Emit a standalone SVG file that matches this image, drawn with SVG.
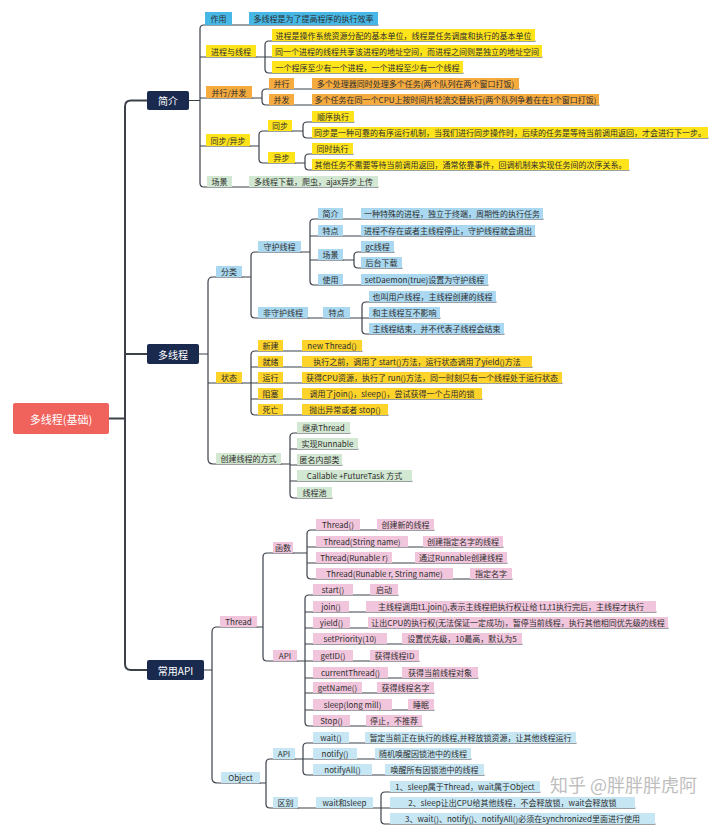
<svg xmlns="http://www.w3.org/2000/svg" width="720" height="837" viewBox="0 0 720 837">
<style>
.t{font-family:"Noto Sans CJK SC","Liberation Sans",sans-serif;font-size:8px;fill:#2e2e2e;text-anchor:middle;dominant-baseline:central}
.w{fill:#ffffff;font-size:10px}
.rt{fill:#ffffff;font-size:11px}
.c{fill:none;stroke:#3b4049;stroke-width:1.2;stroke-linecap:round;stroke-linejoin:round}
.c1{fill:none;stroke:#3b4049;stroke-width:2;stroke-linecap:round}
.blue{fill:#47B8E6}.yel{fill:#FFE41C}.org{fill:#F6AB3E}.grn{fill:#D3E8D2}.lb{fill:#A9D8F0}.gold{fill:#FFD42A}.pink{fill:#F1C6DC}.ob{fill:#C6E6F3}.navy{fill:#1A2A4E}.root{fill:#F0625C}
.wm{font-family:"Noto Sans CJK SC",sans-serif;font-size:18px;fill:#8a8a8a;opacity:0.55}
</style>
<rect width="720" height="837" fill="#ffffff"/>
<g id="connectors">
<path class="c1" d="M109 418.5H125M147 100.5H131Q125 100.5 125 106.5V664Q125 670 131 670H147M125 354H147"/>
<path class="c" d="M189 100.5H200M378 25H204Q200 25 200 29V183Q200 187 204 187H378M200 57H256M200 98H252M200 146H250"/>
<path class="c" d="M256 57H542M535 41H269Q265 41 265 45V69Q265 73 269 73H463"/>
<path class="c" d="M252 98H262M519 89H266Q262 89 262 93V101Q262 105 266 105H599"/>
<path class="c" d="M250 146H259M292 131H263Q259 131 259 135V159Q259 163 263 163H295"/>
<path class="c" d="M292 131H303M354 122H307Q303 122 303 126V134Q303 138 307 138H708"/>
<path class="c" d="M295 163H305M353 154H309Q305 154 305 158V166Q305 170 309 170H629"/>
<path class="c" d="M199 354H208M242 277H213Q208 277 208 282V459Q208 464 213 464H281M208 383H242"/>
<path class="c" d="M242 277H251M301 252H255Q251 252 251 256V314Q251 318 255 318H308"/>
<path class="c" d="M301 252H310M543 219H314Q310 219 310 223V281Q310 285 314 285H488M310 236H535M310 260H343"/>
<path class="c" d="M343 260H354M394 252H358Q354 252 354 256V264Q354 268 358 268H402"/>
<path class="c" d="M308 318H440M496 302H366Q362 302 362 306V330Q362 334 366 334H504"/>
<path class="c" d="M242 383H251M362 351H255Q251 351 251 355V411Q251 415 255 415H388M251 367H532M251 383H562M251 399H482"/>
<path class="c" d="M281 464H290M350 433H294Q290 433 290 437V494Q290 498 294 498H332M290 449H358M290 465H342M290 481H412"/>
<path class="c" d="M204 670H212M257 627H217Q212 627 212 632V778Q212 783 217 783H260"/>
<path class="c" d="M257 627H263M293 553H267Q263 553 263 557V657Q263 661 267 661H297"/>
<path class="c" d="M293 553H307M434 530H311Q307 530 307 534V575Q307 579 311 579H512M307 547H503M307 563H507"/>
<path class="c" d="M297 661H419M398 595H309Q305 595 305 599V722Q305 726 309 726H422M305 612H656M305 628H668M305 644H522M305 678H478M305 693H434M305 710H434"/>
<path class="c" d="M260 783H266M295 759H270Q266 759 266 763V804Q266 808 270 808H298"/>
<path class="c" d="M295 759H471M576 743H307Q303 743 303 747V771Q303 775 307 775H484"/>
<path class="c" d="M298 808H635M540 792H385Q381 792 381 796V820Q381 824 385 824H655"/>
</g>
<g id="root"><rect class="root" x="13" y="403" width="96" height="31" rx="2"/><text class="t rt" x="61" y="418.5">多线程(基础)</text></g>
<g id="n-jianjie"><rect class="navy" x="147" y="91" width="42" height="19" rx="2"/><text class="t w" x="168" y="100.5">简介</text></g>
<g id="n-duoxiancheng"><rect class="navy" x="147" y="344" width="52" height="20" rx="2"/><text class="t w" x="173" y="354">多线程</text></g>
<g id="n-changyongapi"><rect class="navy" x="147" y="660" width="57" height="20" rx="2"/><text class="t w" x="175.5" y="670">常用API</text></g>

<g id="n-zy"><rect class="blue" x="205" y="12" width="27" height="13"/><text class="t" x="218.5" y="18.5">作用</text></g>
<g id="n-zy-l"><rect class="blue" x="249" y="12" width="129" height="13"/><text class="t" x="313.5" y="18.5">多线程是为了提高程序的执行效率</text></g>
<g id="n-jcxc"><rect class="yel" x="206" y="45" width="50" height="12"/><text class="t" x="231" y="51">进程与线程</text></g>
<g id="n-jc1"><rect class="yel" x="272" y="29" width="263" height="12"/><text class="t" x="403.5" y="35">进程是操作系统资源分配的基本单位，线程是任务调度和执行的基本单位</text></g>
<g id="n-jc2"><rect class="yel" x="272" y="45" width="270" height="12"/><text class="t" x="407" y="51">同一个进程的线程共享该进程的地址空间，而进程之间则是独立的地址空间</text></g>
<g id="n-jc3"><rect class="yel" x="272" y="61" width="191" height="12"/><text class="t" x="367.5" y="67">一个程序至少有一个进程，一个进程至少有一个线程</text></g>
<g id="n-bxbf"><rect class="org" x="206" y="86" width="46" height="12"/><text class="t" x="229" y="92">并行/并发</text></g>
<g id="n-bx"><rect class="org" x="269" y="78" width="25" height="11"/><text class="t" x="281.5" y="83.5">并行</text></g>
<g id="n-bx-l"><rect class="org" x="312" y="78" width="207" height="11"/><text class="t" x="415.5" y="83.5">多个处理器同时处理多个任务(两个队列在两个窗口打饭)</text></g>
<g id="n-bf"><rect class="org" x="269" y="94" width="25" height="11"/><text class="t" x="281.5" y="99.5">并发</text></g>
<g id="n-bf-l"><rect class="org" x="312" y="94" width="287" height="11"/><text class="t" x="455.5" y="99.5">多个任务在同一个CPU上按时间片轮流交替执行(两个队列争着在在1个窗口打饭)</text></g>
<g id="n-tbyb"><rect class="yel" x="206" y="134" width="44" height="12"/><text class="t" x="228" y="140">同步/异步</text></g>
<g id="n-tb"><rect class="yel" x="268" y="120" width="24" height="11"/><text class="t" x="280" y="125.5">同步</text></g>
<g id="n-tb1"><rect class="yel" x="312" y="111" width="42" height="11"/><text class="t" x="333" y="116.5">顺序执行</text></g>
<g id="n-tb2"><rect class="yel" x="312" y="127" width="396" height="11"/><text class="t" x="510" y="132.5">同步是一种可靠的有序运行机制，当我们进行同步操作时，后续的任务是等待当前调用返回，才会进行下一步。</text></g>
<g id="n-yb"><rect class="yel" x="268" y="152" width="27" height="11"/><text class="t" x="281.5" y="157.5">异步</text></g>
<g id="n-yb1"><rect class="yel" x="312" y="143" width="41" height="11"/><text class="t" x="332.5" y="148.5">同时执行</text></g>
<g id="n-yb2"><rect class="yel" x="312" y="159" width="317" height="11"/><text class="t" x="470.5" y="164.5">其他任务不需要等待当前调用返回，通常依靠事件，回调机制来实现任务间的次序关系。</text></g>
<g id="n-cj"><rect class="grn" x="207" y="176" width="25" height="11"/><text class="t" x="219.5" y="181.5">场景</text></g>
<g id="n-cj-l"><rect class="grn" x="249" y="176" width="129" height="11"/><text class="t" x="313.5" y="181.5">多线程下载，爬虫，ajax异步上传</text></g>

<g id="n-fl"><rect class="lb" x="216" y="266" width="26" height="11"/><text class="t" x="229" y="271.5">分类</text></g>
<g id="n-sh"><rect class="lb" x="258" y="241" width="43" height="11"/><text class="t" x="279.5" y="246.5">守护线程</text></g>
<g id="n-sh-jj"><rect class="lb" x="318" y="208" width="25" height="11"/><text class="t" x="330.5" y="213.5">简介</text></g>
<g id="n-sh-jj-l"><rect class="lb" x="361" y="208" width="182" height="11"/><text class="t" x="452" y="213.5">一种特殊的进程，独立于终端，周期性的执行任务</text></g>
<g id="n-sh-td"><rect class="lb" x="318" y="225" width="25" height="11"/><text class="t" x="330.5" y="230.5">特点</text></g>
<g id="n-sh-td-l"><rect class="lb" x="361" y="225" width="174" height="11"/><text class="t" x="448" y="230.5">进程不存在或者主线程停止，守护线程就会退出</text></g>
<g id="n-sh-cj"><rect class="lb" x="318" y="249" width="25" height="11"/><text class="t" x="330.5" y="254.5">场景</text></g>
<g id="n-gc"><rect class="lb" x="361" y="241" width="33" height="11"/><text class="t" x="377.5" y="246.5">gc线程</text></g>
<g id="n-htxz"><rect class="lb" x="361" y="257" width="41" height="11"/><text class="t" x="381.5" y="262.5">后台下载</text></g>
<g id="n-sh-sy"><rect class="lb" x="318" y="274" width="25" height="11"/><text class="t" x="330.5" y="279.5">使用</text></g>
<g id="n-sh-sy-l"><rect class="lb" x="361" y="274" width="127" height="11"/><text class="t" x="424.5" y="279.5">setDaemon(true)设置为守护线程</text></g>
<g id="n-fsh"><rect class="lb" x="258" y="307" width="50" height="11"/><text class="t" x="283" y="312.5">非守护线程</text></g>
<g id="n-fsh-td"><rect class="lb" x="323" y="307" width="27" height="11"/><text class="t" x="336.5" y="312.5">特点</text></g>
<g id="n-fsh1"><rect class="lb" x="369" y="291" width="127" height="11"/><text class="t" x="432.5" y="296.5">也叫用户线程，主线程创建的线程</text></g>
<g id="n-fsh2"><rect class="lb" x="369" y="307" width="71" height="11"/><text class="t" x="404.5" y="312.5">和主线程互不影响</text></g>
<g id="n-fsh3"><rect class="lb" x="369" y="323" width="135" height="11"/><text class="t" x="436.5" y="328.5">主线程结束，并不代表子线程会结束</text></g>

<g id="n-zt"><rect class="gold" x="216" y="372" width="26" height="11"/><text class="t" x="229" y="377.5">状态</text></g>
<g id="n-xj"><rect class="gold" x="258" y="340" width="25" height="11"/><text class="t" x="270.5" y="345.5">新建</text></g>
<g id="n-xj-l"><rect class="gold" x="302" y="340" width="60" height="11"/><text class="t" x="332" y="345.5">new Thread()</text></g>
<g id="n-jx"><rect class="gold" x="258" y="356" width="25" height="11"/><text class="t" x="270.5" y="361.5">就绪</text></g>
<g id="n-jx-l"><rect class="gold" x="302" y="356" width="230" height="11"/><text class="t" x="417" y="361.5">执行之前，调用了 start()方法，运行状态调用了yield()方法</text></g>
<g id="n-yx"><rect class="gold" x="258" y="372" width="25" height="11"/><text class="t" x="270.5" y="377.5">运行</text></g>
<g id="n-yx-l"><rect class="gold" x="302" y="372" width="260" height="11"/><text class="t" x="432" y="377.5">获得CPU资源，执行了 run()方法，同一时刻只有一个线程处于运行状态</text></g>
<g id="n-zs"><rect class="gold" x="258" y="388" width="25" height="11"/><text class="t" x="270.5" y="393.5">阻塞</text></g>
<g id="n-zs-l"><rect class="gold" x="302" y="388" width="180" height="11"/><text class="t" x="392" y="393.5">调用了join()，sleep()，尝试获得一个占用的锁</text></g>
<g id="n-sw"><rect class="gold" x="258" y="404" width="25" height="11"/><text class="t" x="270.5" y="409.5">死亡</text></g>
<g id="n-sw-l"><rect class="gold" x="302" y="404" width="86" height="11"/><text class="t" x="345" y="409.5">抛出异常或者 stop()</text></g>

<g id="n-cjfs"><rect class="grn" x="216" y="453" width="65" height="11"/><text class="t" x="248.5" y="458.5">创建线程的方式</text></g>
<g id="n-c1"><rect class="grn" x="297" y="422" width="53" height="11"/><text class="t" x="323.5" y="427.5">继承Thread</text></g>
<g id="n-c2"><rect class="grn" x="297" y="438" width="61" height="11"/><text class="t" x="327.5" y="443.5">实现Runnable</text></g>
<g id="n-c3"><rect class="grn" x="297" y="454" width="45" height="11"/><text class="t" x="319.5" y="459.5">匿名内部类</text></g>
<g id="n-c4"><rect class="grn" x="297" y="470" width="115" height="11"/><text class="t" x="354.5" y="475.5">Callable +FutureTask 方式</text></g>
<g id="n-c5"><rect class="grn" x="297" y="487" width="35" height="11"/><text class="t" x="314.5" y="492.5">线程池</text></g>

<g id="n-thread"><rect class="pink" x="220" y="616" width="37" height="11"/><text class="t" x="238.5" y="621.5">Thread</text></g>
<g id="n-hs"><rect class="pink" x="273" y="542" width="20" height="11"/><text class="t" x="283" y="547.5">函数</text></g>
<g id="n-f1"><rect class="pink" x="316" y="519" width="44" height="11"/><text class="t" x="338" y="524.5">Thread()</text></g>
<g id="n-f1-l"><rect class="pink" x="377" y="519" width="57" height="11"/><text class="t" x="405.5" y="524.5">创建新的线程</text></g>
<g id="n-f2"><rect class="pink" x="316" y="536" width="92" height="11"/><text class="t" x="362" y="541.5">Thread(String name)</text></g>
<g id="n-f2-l"><rect class="pink" x="423" y="536" width="80" height="11"/><text class="t" x="463" y="541.5">创建指定名字的线程</text></g>
<g id="n-f3"><rect class="pink" x="316" y="552" width="76" height="11"/><text class="t" x="354" y="557.5">Thread(Runable r)</text></g>
<g id="n-f3-l"><rect class="pink" x="415" y="552" width="92" height="11"/><text class="t" x="461" y="557.5">通过Runnable创建线程</text></g>
<g id="n-f4"><rect class="pink" x="316" y="568" width="137" height="11"/><text class="t" x="384.5" y="573.5">Thread(Runable r, String name)</text></g>
<g id="n-f4-l"><rect class="pink" x="470" y="568" width="42" height="11"/><text class="t" x="491" y="573.5">指定名字</text></g>
<g id="n-api"><rect class="pink" x="273" y="650" width="24" height="11"/><text class="t" x="285" y="655.5">API</text></g>
<g id="n-a1"><rect class="pink" x="313" y="584" width="40" height="11"/><text class="t" x="333" y="589.5">start()</text></g>
<g id="n-a1-l"><rect class="pink" x="370" y="584" width="28" height="11"/><text class="t" x="384" y="589.5">启动</text></g>
<g id="n-a2"><rect class="pink" x="313" y="601" width="36" height="11"/><text class="t" x="331" y="606.5">join()</text></g>
<g id="n-a2-l"><rect class="pink" x="366" y="601" width="290" height="11"/><text class="t" x="511" y="606.5">主线程调用t1.join(),表示主线程把执行权让给 t1,t1执行完后，主线程才执行</text></g>
<g id="n-a3"><rect class="pink" x="313" y="617" width="37" height="11"/><text class="t" x="331.5" y="622.5">yield()</text></g>
<g id="n-a3-l"><rect class="pink" x="368" y="617" width="300" height="11"/><text class="t" x="518" y="622.5">让出CPU的执行权(无法保证一定成功)，暂停当前线程，执行其他相同优先级的线程</text></g>
<g id="n-a4"><rect class="pink" x="313" y="633" width="74" height="11"/><text class="t" x="350" y="638.5">setPriority(10)</text></g>
<g id="n-a4-l"><rect class="pink" x="402" y="633" width="120" height="11"/><text class="t" x="462" y="638.5">设置优先级，10最高，默认为5</text></g>
<g id="n-a5"><rect class="pink" x="313" y="650" width="40" height="11"/><text class="t" x="333" y="655.5">getID()</text></g>
<g id="n-a5-l"><rect class="pink" x="370" y="650" width="49" height="11"/><text class="t" x="394.5" y="655.5">获得线程ID</text></g>
<g id="n-a6"><rect class="pink" x="313" y="667" width="75" height="11"/><text class="t" x="350.5" y="672.5">currentThread()</text></g>
<g id="n-a6-l"><rect class="pink" x="402" y="667" width="76" height="11"/><text class="t" x="440" y="672.5">获得当前线程对象</text></g>
<g id="n-a7"><rect class="pink" x="313" y="682" width="49" height="11"/><text class="t" x="337.5" y="687.5">getName()</text></g>
<g id="n-a7-l"><rect class="pink" x="377" y="682" width="57" height="11"/><text class="t" x="405.5" y="687.5">获得线程名字</text></g>
<g id="n-a8"><rect class="pink" x="313" y="699" width="79" height="11"/><text class="t" x="352.5" y="704.5">sleep(long mill)</text></g>
<g id="n-a8-l"><rect class="pink" x="408" y="699" width="26" height="11"/><text class="t" x="421" y="704.5">睡眠</text></g>
<g id="n-a9"><rect class="pink" x="313" y="715" width="37" height="11"/><text class="t" x="331.5" y="720.5">Stop()</text></g>
<g id="n-a9-l"><rect class="pink" x="366" y="715" width="56" height="11"/><text class="t" x="394" y="720.5">停止，不推荐</text></g>

<g id="n-obj"><rect class="ob" x="221" y="772" width="39" height="11"/><text class="t" x="240.5" y="777.5">Object</text></g>
<g id="n-oapi"><rect class="ob" x="273" y="748" width="22" height="11"/><text class="t" x="284" y="753.5">API</text></g>
<g id="n-o1"><rect class="ob" x="313" y="732" width="36" height="11"/><text class="t" x="331" y="737.5">wait()</text></g>
<g id="n-o1-l"><rect class="ob" x="365" y="732" width="211" height="11"/><text class="t" x="470.5" y="737.5">暂定当前正在执行的线程,并释放锁资源，让其他线程运行</text></g>
<g id="n-o2"><rect class="ob" x="313" y="748" width="44" height="11"/><text class="t" x="335" y="753.5">notify()</text></g>
<g id="n-o2-l"><rect class="ob" x="375" y="748" width="96" height="11"/><text class="t" x="423" y="753.5">随机唤醒因锁池中的线程</text></g>
<g id="n-o3"><rect class="ob" x="313" y="764" width="59" height="11"/><text class="t" x="342.5" y="769.5">notifyAll()</text></g>
<g id="n-o3-l"><rect class="ob" x="385" y="764" width="99" height="11"/><text class="t" x="434.5" y="769.5">唤醒所有因锁池中的线程</text></g>
<g id="n-qb"><rect class="ob" x="273" y="797" width="25" height="11"/><text class="t" x="285.5" y="802.5">区别</text></g>
<g id="n-ws"><rect class="ob" x="316" y="797" width="57" height="11"/><text class="t" x="344.5" y="802.5">wait和sleep</text></g>
<g id="n-d1"><rect class="ob" x="390" y="781" width="150" height="11"/><text class="t" x="465" y="786.5">1、sleep属于Thread，wait属于Object</text></g>
<g id="n-d2"><rect class="ob" x="390" y="797" width="245" height="11"/><text class="t" x="512.5" y="802.5">2、sleep让出CPU给其他线程，不会释放锁，wait会释放锁</text></g>
<g id="n-d3"><rect class="ob" x="390" y="813" width="265" height="11"/><text class="t" x="522.5" y="818.5">3、wait()、notify()、notifyAll()必须在synchronized里面进行使用</text></g>
<text class="wm" x="550" y="792">知乎 @胖胖胖虎阿</text>
</svg>
